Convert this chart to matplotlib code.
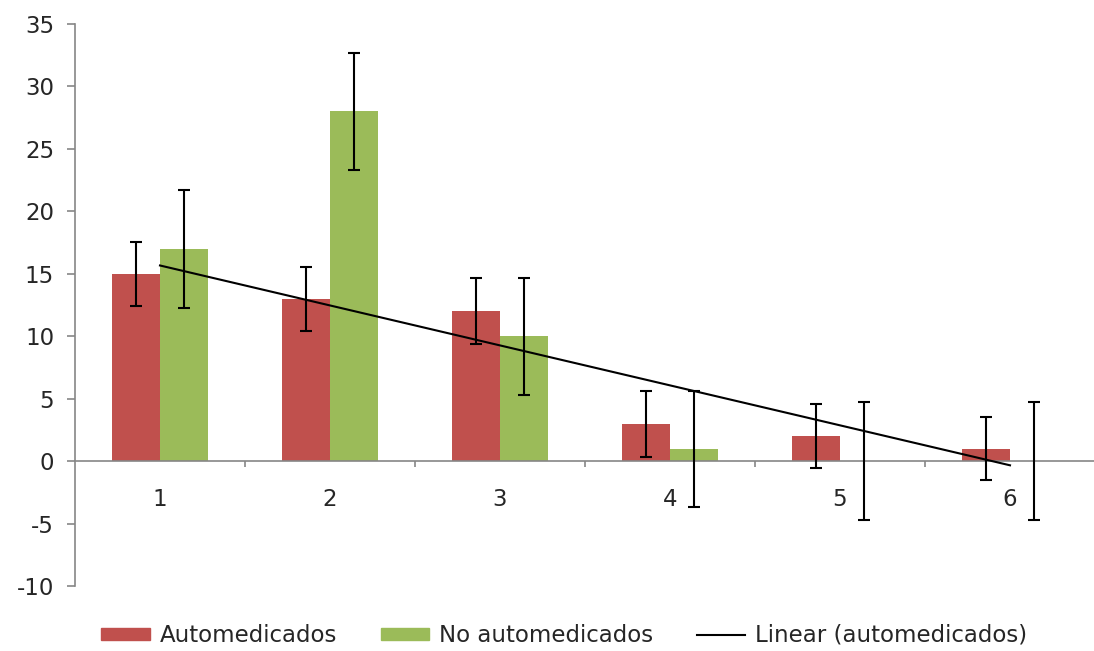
import matplotlib
matplotlib.use("Agg")
import matplotlib.pyplot as plt
from matplotlib.patches import Patch
from matplotlib.lines import Line2D
import numpy as np

categories = [1, 2, 3, 4, 5, 6]
auto = [15, 13, 12, 3, 2, 1]
no_auto = [17, 28, 10, 1, 0, 0]
auto_err = [2.55, 2.55, 2.65, 2.65, 2.55, 2.5]
no_auto_err = [4.7, 4.65, 4.7, 4.65, 4.7, 4.7]

red = "#C0504D"
green = "#9BBB59"
axis_col = "#868686"
fs = 16.5

plt.rcParams["axes.unicode_minus"] = False

def main():
    x = np.array(categories, dtype=float)
    w = 0.285

    fig = plt.figure(figsize=(10.94, 6.51), dpi=100)
    ax = fig.add_axes([75 / 1094, 0.0998, 1020 / 1094, 0.8633])

    ax.bar(x - w / 2, auto, w, color=red, zorder=2)
    ax.bar(x + w / 2, no_auto, w, color=green, zorder=2)
    ax.errorbar(x - w / 2, auto, yerr=auto_err, fmt="none", ecolor="black",
                elinewidth=1.5, capsize=4.5, capthick=1.5, zorder=3)
    ax.errorbar(x + w / 2, no_auto, yerr=no_auto_err, fmt="none", ecolor="black",
                elinewidth=1.5, capsize=4.5, capthick=1.5, zorder=3)

    # linear trend of automedicados
    m, b = np.polyfit(x, auto, 1)
    ax.plot(x, m * x + b, color="black", lw=1.5, zorder=4)

    ax.set_xlim(0.5, 6.5)
    ax.set_ylim(-10, 35)
    ax.set_yticks(range(-10, 36, 5))

    ax.spines["bottom"].set_position(("data", 0))
    ax.spines["top"].set_visible(False)
    ax.spines["right"].set_visible(False)
    for s in ("left", "bottom"):
        ax.spines[s].set_color(axis_col)
        ax.spines[s].set_linewidth(1.2)

    ax.set_xticks(x)
    ax.set_xticklabels([str(c) for c in categories])
    ax.set_xticks(np.arange(1.5, 6.6, 1), minor=True)
    ax.tick_params(axis="x", which="major", length=0, pad=19, labelsize=fs, colors="#262626")
    ax.tick_params(axis="x", which="minor", length=4, width=1.2, color=axis_col, direction="out")
    ax.tick_params(axis="y", length=6, width=1.2, color=axis_col, pad=9, labelsize=fs, labelcolor="#262626")

    handles = [Patch(color=red), Patch(color=green), Line2D([], [], color="black", lw=1.5)]
    labels = ["Automedicados", "No automedicados", "Linear (automedicados)"]
    fig.legend(handles, labels, loc="center", bbox_to_anchor=(0.516, 0.024), ncol=3,
               frameon=False, fontsize=fs, handlelength=2.1, handleheight=0.45,
               handletextpad=0.45, columnspacing=1.9, labelcolor="#262626")

    fig.savefig("out.png", dpi=100)

if __name__ == "__main__":
    main()
